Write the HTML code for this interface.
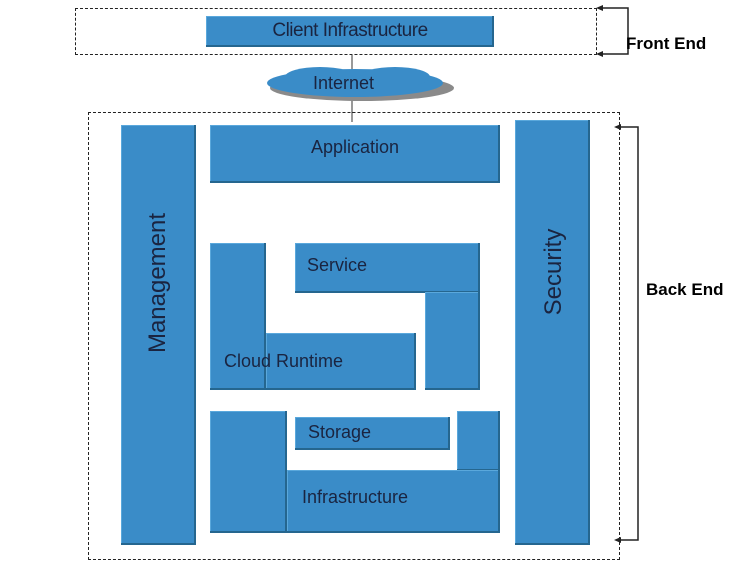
<!DOCTYPE html>
<html><head><style>
body{margin:0;width:749px;height:574px;background:#fff;position:relative;overflow:hidden;font-family:"Liberation Sans",sans-serif;}
.b{position:absolute;background:#3a8cc8;box-shadow:inset -2px -2px 0 #25668f,inset 1px 1px 0 #5aa8dc;color:#1a2440;font-size:18px;}
.t{position:absolute;color:#1a2440;font-size:18px;}
.d{position:absolute;border:1px dashed #222;}
</style></head><body>
<div class="d" style="left:75px;top:8px;width:520px;height:45px"></div>
<div class="d" style="left:88px;top:112px;width:530px;height:446px"></div>
<svg width="749" height="574" style="position:absolute;left:0;top:0">
<line x1="352" y1="54" x2="352" y2="122" stroke="#333"/>
<ellipse cx="362" cy="88" rx="92" ry="13" fill="#8a8a8a"/>
<ellipse cx="355" cy="83" rx="88" ry="14" fill="#3a8cc8"/>
<ellipse cx="320" cy="77" rx="35" ry="10" fill="#3a8cc8"/>
<ellipse cx="395" cy="77" rx="35" ry="10" fill="#3a8cc8"/>
<polyline points="600,8 628,8 628,54 600,54" fill="none" stroke="#222" stroke-width="1.5"/>
<polygon points="596,8 603,5 603,11" fill="#222"/><polygon points="596,54 603,51 603,57" fill="#222"/>
<polyline points="618,127 638,127 638,540 618,540" fill="none" stroke="#222" stroke-width="1.5"/>
<polygon points="614,127 621,124 621,130" fill="#222"/><polygon points="614,540 621,537 621,543" fill="#222"/>
</svg>
<div class="t" style="left:313px;top:73px">Internet</div>
<div class="b" style="left:206px;top:16px;width:288px;height:31px;text-align:center;line-height:30px;font-size:19px;letter-spacing:-0.5px">Client Infrastructure</div>
<div style="position:absolute;left:626px;top:34px;font-weight:bold;font-size:17px">Front End</div>
<div style="position:absolute;left:646px;top:280px;font-weight:bold;font-size:17px">Back End</div>
<div class="b" style="left:121px;top:125px;width:75px;height:420px"></div>
<div class="t" style="left:158px;top:283px;transform:translate(-50%,-50%) rotate(-90deg);font-size:24px;white-space:nowrap">Management</div>
<div class="b" style="left:515px;top:120px;width:75px;height:425px"></div>
<div class="t" style="left:554px;top:272px;transform:translate(-50%,-50%) rotate(-90deg);font-size:24px;white-space:nowrap">Security</div>
<div class="b" style="left:210px;top:125px;width:290px;height:58px;text-align:center;line-height:44px">Application</div>
<div class="b" style="left:295px;top:243px;width:185px;height:50px;padding-left:12px;box-sizing:border-box;line-height:44px">Service</div>
<div class="b" style="left:425px;top:292px;width:55px;height:98px"></div>
<div class="b" style="left:266px;top:333px;width:150px;height:57px"></div>
<div class="b" style="left:210px;top:243px;width:56px;height:147px"></div>
<div class="t" style="left:224px;top:351px">Cloud Runtime</div>
<div class="b" style="left:210px;top:411px;width:77px;height:122px"></div>
<div class="b" style="left:457px;top:411px;width:43px;height:60px"></div>
<div class="b" style="left:287px;top:470px;width:213px;height:63px;padding-left:15px;box-sizing:border-box;line-height:54px">Infrastructure</div>
<div class="b" style="left:295px;top:417px;width:155px;height:33px;padding-left:13px;box-sizing:border-box;line-height:30px">Storage</div>
</body></html>
